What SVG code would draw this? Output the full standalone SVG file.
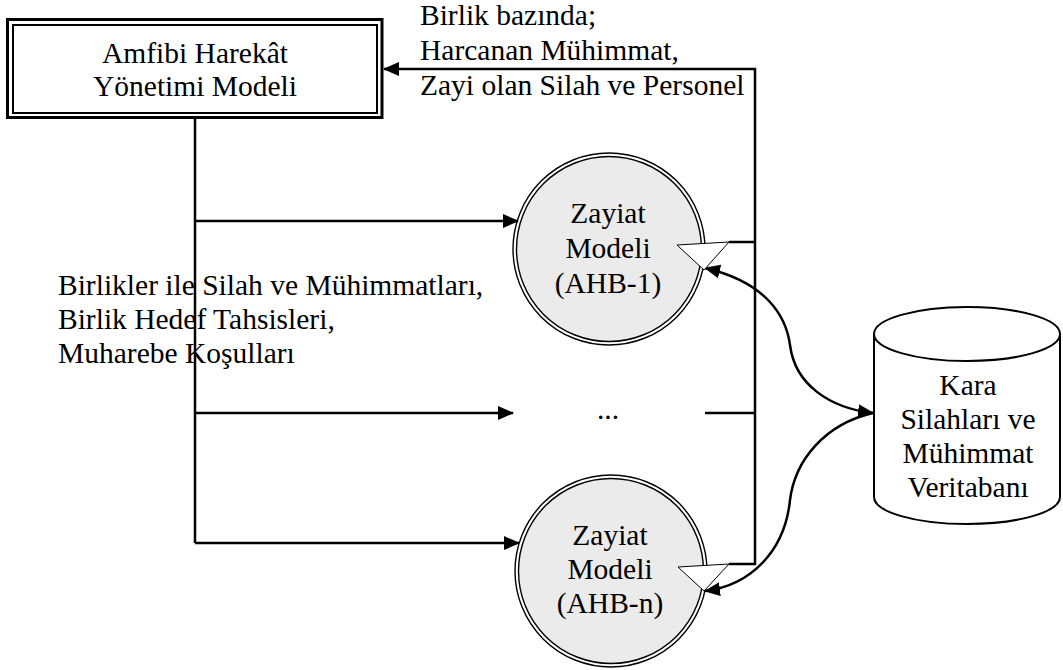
<svg xmlns="http://www.w3.org/2000/svg" width="1063" height="670" viewBox="0 0 1063 670">
  <style>
    text { font-family: "Liberation Serif", "Times New Roman", serif; font-size: 29.5px; fill: #000; }
    .mid { text-anchor: middle; }
    .wire { fill: none; stroke: #000; stroke-width: 2.5; }
    .ring { fill: none; stroke: #000; stroke-width: 1.4; }
    .core { fill: #ebebeb; stroke: #000; stroke-width: 1.4; }
    .openhead { fill: #fff; stroke: #000; stroke-width: 1; stroke-linejoin: miter; }
  </style>
  <defs>
    <marker id="arrow" markerUnits="userSpaceOnUse" markerWidth="16" markerHeight="14" refX="15" refY="7" orient="auto-start-reverse" viewBox="0 0 16 14">
      <path d="M0,0 L16,7 L0,14 Z" fill="#000"/>
    </marker>
  </defs>

  <rect width="1063" height="670" fill="#fff"/>

  <!-- management model: double-bordered box -->
  <g id="node-management">
    <rect x="7.5" y="19.5" width="374.5" height="98" fill="#fff" stroke="#000" stroke-width="3"/>
    <rect x="13" y="25" width="364" height="88" fill="none" stroke="#000" stroke-width="2"/>
    <text class="mid" x="195" y="63">Amfibi Harekât</text>
    <text class="mid" x="195" y="96">Yönetimi Modeli</text>
  </g>

  <!-- connectors -->
  <g id="connectors">
    <!-- inputs from management model to each loss model -->
    <path class="wire" d="M195,119 V543"/>
    <path class="wire" d="M195,221 H518" marker-end="url(#arrow)"/>
    <path class="wire" d="M195,413 H513" marker-end="url(#arrow)"/>
    <path class="wire" d="M195,543 H519" marker-end="url(#arrow)"/>
    <!-- results back to management model -->
    <path class="wire" d="M729,564 H755 V69 H384" marker-end="url(#arrow)"/>
    <path class="wire" d="M729,242 H755"/>
    <path class="wire" d="M705,413 H755"/>
    <!-- database links -->
    <path class="wire" d="M705,268 C765,282 786,315 790,345 C795,385 830,408 873,413" marker-start="url(#arrow)" marker-end="url(#arrow)"/>
    <path class="wire" d="M873,413 C825,424 795,460 790,500 C785,550 752,585 705,591" marker-end="url(#arrow)"/>
  </g>

  <text id="label-results" x="420" y="25">Birlik bazında;</text>
  <text x="420" y="60">Harcanan Mühimmat,</text>
  <text x="420" y="95">Zayi olan Silah ve Personel</text>

  <g id="label-inputs">
    <text x="58" y="295">Birlikler ile Silah ve Mühimmatları,</text>
    <text x="58" y="329">Birlik Hedef Tahsisleri,</text>
    <text x="58" y="363">Muharebe Koşulları</text>
  </g>

  <!-- loss model 1 -->
  <g id="node-loss-1">
    <circle class="ring" cx="609" cy="249" r="96"/>
    <circle class="core" cx="609" cy="249" r="92.5"/>
    <path class="openhead" d="M677,245 L729,242 L704,270 Z"/>
    <text class="mid" x="608" y="223">Zayiat</text>
    <text class="mid" x="608" y="258">Modeli</text>
    <text class="mid" x="608" y="293">(AHB-1)</text>
  </g>

  <text id="label-ellipsis" class="mid" x="608" y="419">...</text>

  <!-- loss model n -->
  <g id="node-loss-n">
    <circle class="ring" cx="611" cy="571" r="96"/>
    <circle class="core" cx="611" cy="571" r="92.5"/>
    <path class="openhead" d="M678,567 L729,564 L704,591 Z"/>
    <text class="mid" x="610" y="545">Zayiat</text>
    <text class="mid" x="610" y="579">Modeli</text>
    <text class="mid" x="610" y="613">(AHB-n)</text>
  </g>

  <!-- weapons and ammunition database -->
  <g id="node-database">
    <path d="M874,334 V497 A93,27 0 0 0 1060,497 V334 A93,27 0 0 0 874,334 Z" fill="#fff" stroke="#000" stroke-width="2"/>
    <path d="M874,334 A93,27 0 0 0 1060,334" fill="none" stroke="#000" stroke-width="2"/>
    <text class="mid" x="968" y="395">Kara</text>
    <text class="mid" x="968" y="429">Silahları ve</text>
    <text class="mid" x="968" y="463">Mühimmat</text>
    <text class="mid" x="968" y="497">Veritabanı</text>
  </g>
</svg>
